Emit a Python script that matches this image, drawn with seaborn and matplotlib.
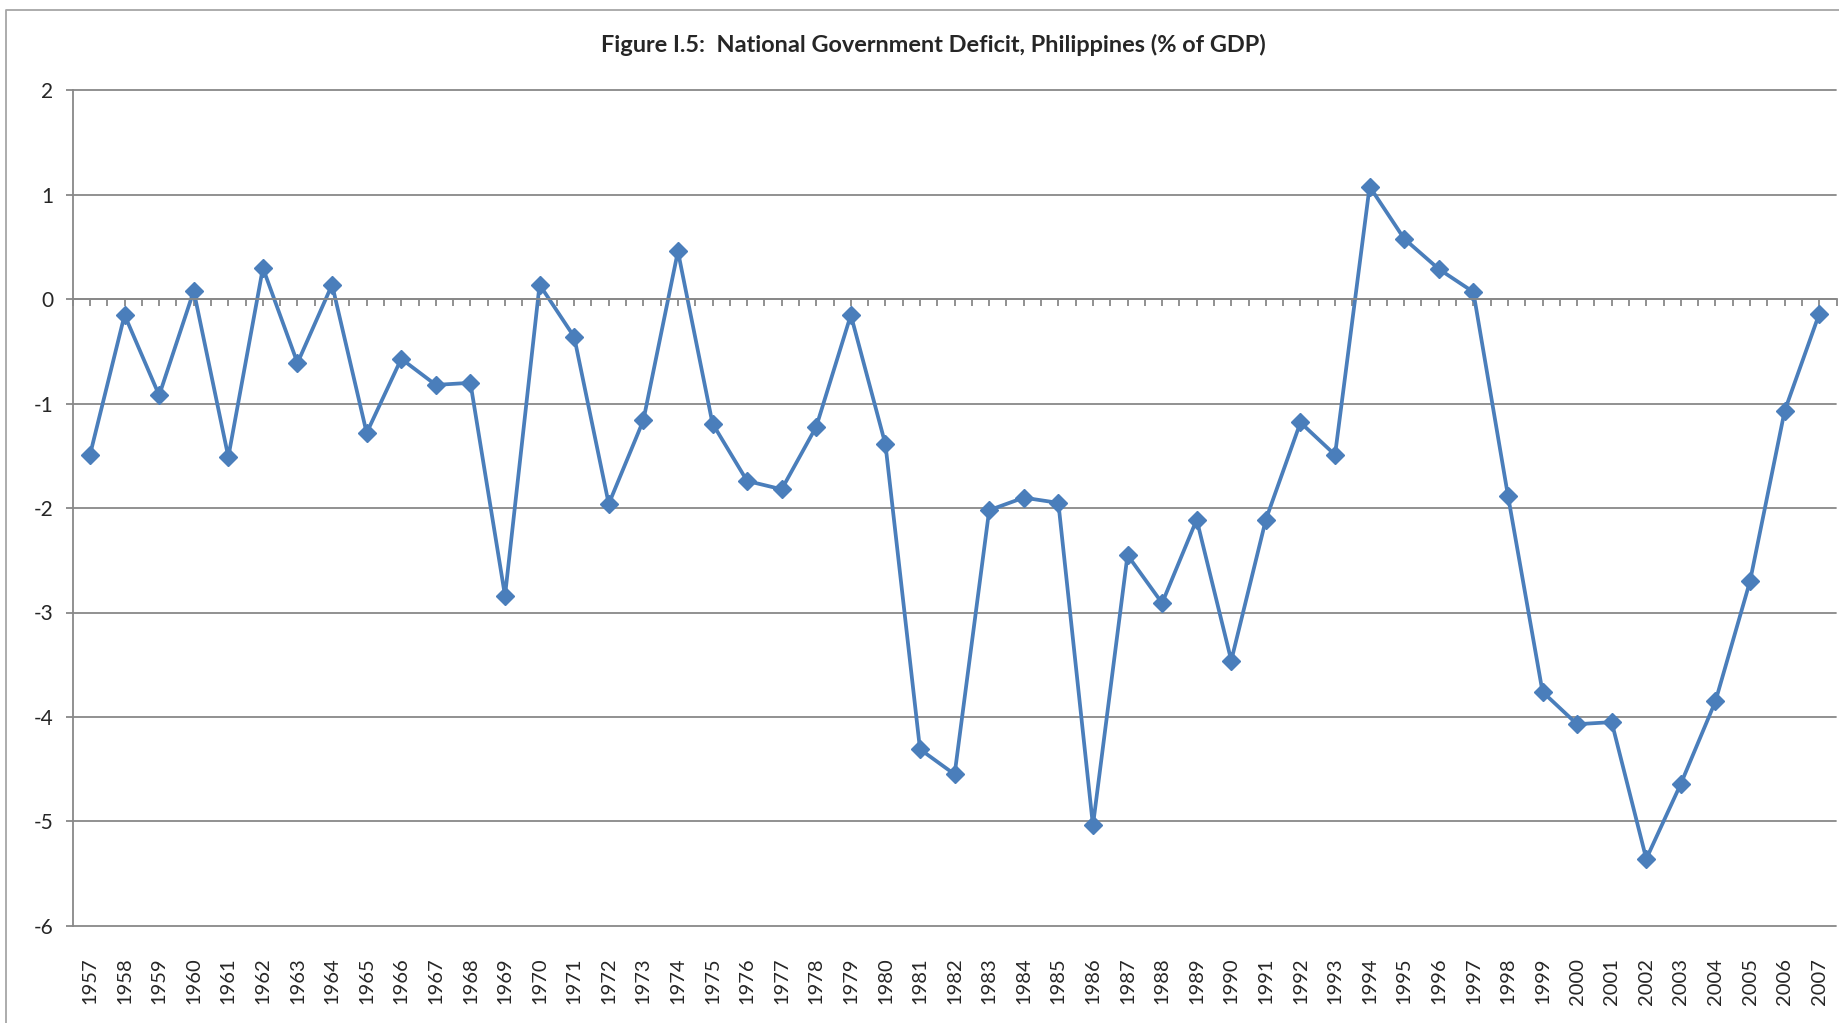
import numpy as np
import pandas as pd
import matplotlib
matplotlib.use('Agg')
import matplotlib.pyplot as plt
import seaborn as sns
from matplotlib.lines import Line2D
from matplotlib.ticker import MultipleLocator, FixedLocator

years = list(range(1957, 2008))
deficit = [-1.49, -0.15, -0.92, 0.08, -1.51, 0.30, -0.61, 0.14, -1.28, -0.57,
           -0.82, -0.80, -2.84, 0.14, -0.36, -1.96, -1.16, 0.46, -1.19, -1.74,
           -1.82, -1.22, -0.15, -1.39, -4.31, -4.55, -2.02, -1.90, -1.95, -5.04,
           -2.45, -2.91, -2.11, -3.46, -2.11, -1.18, -1.49, 1.08, 0.58, 0.29,
           0.07, -1.88, -3.76, -4.07, -4.05, -5.36, -4.64, -3.85, -2.70, -1.07,
           -0.14]
title = 'Figure I.5:  National Government Deficit, Philippines (% of GDP)'

df = pd.DataFrame({'year': years, 'deficit': deficit})

sns.set_style('white')
plt.rcParams['font.family'] = ['Lato', 'DejaVu Sans']
plt.rcParams['axes.unicode_minus'] = False

W, H = 1840, 1023
fig = plt.figure(figsize=(W / 100, H / 100), dpi=100)
# plot area in pixels: x 72.7..1836.5, y 90.5..925.7
ax = fig.add_axes([72.7 / W, 1 - 925.7 / H, (1836.5 - 72.7) / W, (925.7 - 90.5) / H])

grid_c = '#888888'
sns.lineplot(data=df, x='year', y='deficit', ax=ax, color='#4a7ebb', lw=2.7,
             marker='D', markersize=9, markeredgewidth=1, markeredgecolor='#4a7ebb')

ax.set_xlim(1956.5, 2007.5)
ax.set_ylim(-6, 2)
ax.set_xlabel('')
ax.set_ylabel('')

ax.yaxis.set_major_locator(MultipleLocator(1))
ax.grid(axis='y', color=grid_c, lw=1.3)
ax.grid(axis='x', visible=False)
for gl in ax.get_ygridlines():
    gl.set_clip_on(False)

# category axis runs along zero, labels stay at the bottom
ax.xaxis.set_major_locator(FixedLocator(years))
ax.xaxis.set_minor_locator(FixedLocator([y - 0.5 for y in years] + [2007.5]))
ax.set_xticklabels([str(y) for y in years])
ax.spines['top'].set_position(('data', 0))
ax.tick_params(axis='x', which='both', top=True, bottom=False, direction='in',
               length=5, width=1.3, color=grid_c, labeltop=False, pad=23,
               labelrotation=90, labelsize=14.5)
ax.tick_params(axis='y', left=True, direction='out', length=5, width=1.3,
               color=grid_c, labelsize=15, pad=9)

for s in ['right', 'bottom']:
    ax.spines[s].set_visible(False)
for s in ['left', 'top']:
    ax.spines[s].set_color(grid_c)
    ax.spines[s].set_linewidth(1.3)

fig.text(933.5 / W, 1 - 45 / H, title, ha='center', va='center',
         fontsize=16.9, fontweight='bold')

# chart frame (cut off at right and bottom)
fig.add_artist(Line2D([5.7 / W, 5.7 / W, 1.0], [0.0, 1 - 10 / H, 1 - 10 / H],
                      transform=fig.transFigure, color='#a6a6a6', lw=1.3))

fig.savefig('out.png', dpi=100)
